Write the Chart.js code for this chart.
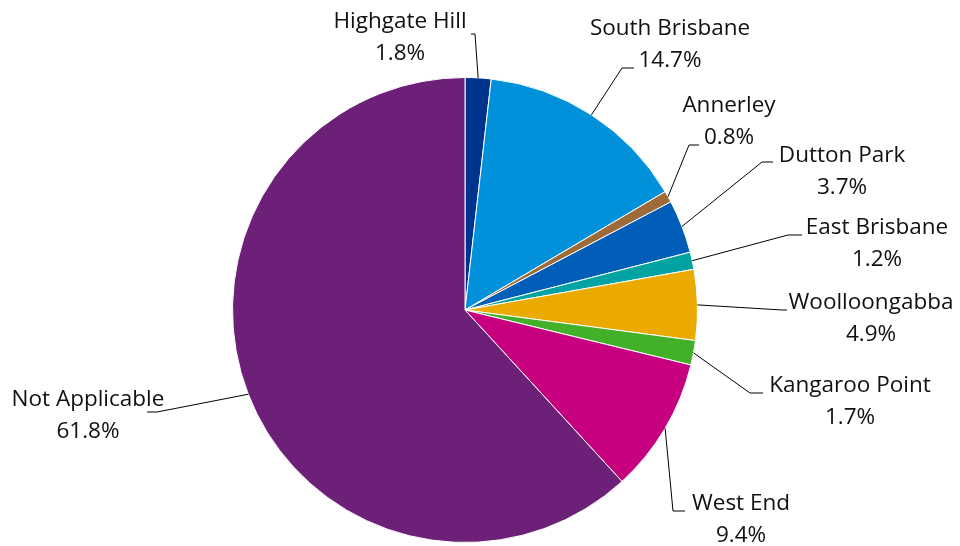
<!DOCTYPE html>
<html>
<head>
<meta charset="utf-8">
<script src="https://cdn.jsdelivr.net/npm/chart.js@4/dist/chart.umd.min.js"></script>
<style>
  html, body { margin: 0; padding: 0; background: #fff; }
  #wrap { width: 960px; height: 546px; position: relative; }
</style>
</head>
<body>
<div id="wrap"><canvas id="pie"></canvas></div>
<script>
const suburbs = ["Highgate Hill", "South Brisbane", "Annerley", "Dutton Park", "East Brisbane",
  "Woolloongabba", "Kangaroo Point", "West End", "Not Applicable"];
const shares = [1.8, 14.7, 0.8, 3.7, 1.2, 4.9, 1.7, 9.4, 61.8];
const colours = ["#00338D", "#0091DA", "#9E6A38", "#005EB8", "#00A3A1",
  "#EAAA00", "#43B02A", "#C6007E", "#6D2077"];

// where each label sits (centre of first line) and where its leader bends
const labelSpots = [
  { x: 400, y: 22, elbow: [475, 34], end: [471, 34] },
  { x: 670, y: 29, elbow: [622, 68], end: [634, 68] },
  { x: 729, y: 106, elbow: [689, 145], end: [699, 145] },
  { x: 842, y: 156, elbow: [762, 162], end: [773, 162] },
  { x: 877, y: 228, elbow: [788, 235], end: [802, 235] },
  { x: 871, y: 303, elbow: [782, 310], end: [787, 310] },
  { x: 850, y: 386, elbow: [750, 393], end: [763, 393] },
  { x: 741, y: 504, elbow: [673, 511], end: [685, 511] },
  { x: 88, y: 400, elbow: [157, 412], end: [147, 412] },
];

const labelFont = "22.5px 'Open Sans'";
const lineGap = 32;

const calloutPlugin = {
  id: "callouts",
  afterDatasetsDraw(chart) {
    const ctx = chart.ctx;
    const arcs = chart.getDatasetMeta(0).data;
    ctx.save();
    arcs.forEach((arc, i) => {
      const { x, y, startAngle, endAngle, outerRadius } = arc.getProps(
        ["x", "y", "startAngle", "endAngle", "outerRadius"], true);
      const mid = (startAngle + endAngle) / 2;
      const ax = x + Math.cos(mid) * outerRadius;
      const ay = y + Math.sin(mid) * outerRadius;
      const spot = labelSpots[i];

      ctx.strokeStyle = "#000";
      ctx.lineWidth = 1;
      ctx.beginPath();
      ctx.moveTo(ax, ay);
      ctx.lineTo(spot.elbow[0], spot.elbow[1]);
      ctx.lineTo(spot.end[0], spot.end[1]);
      ctx.stroke();

      ctx.fillStyle = "#111";
      ctx.font = labelFont;
      ctx.textAlign = "center";
      ctx.textBaseline = "middle";
      ctx.fillText(suburbs[i], spot.x, spot.y);
      ctx.fillText(shares[i].toFixed(1) + "%", spot.x, spot.y + lineGap);
    });
    ctx.restore();
  }
};

new Chart(document.getElementById("pie"), {
  type: "pie",
  data: {
    labels: suburbs,
    datasets: [{
      data: shares,
      backgroundColor: colours,
      borderColor: "#fff",
      borderWidth: 1,
    }]
  },
  options: {
    responsive: true,
    maintainAspectRatio: false,
    animation: false,
    layout: { padding: { top: 77, bottom: 3, left: 232, right: 262 } },
    plugins: {
      legend: { display: false },
      tooltip: { enabled: false },
    }
  },
  plugins: [calloutPlugin]
});
</script>
</body>
</html>
